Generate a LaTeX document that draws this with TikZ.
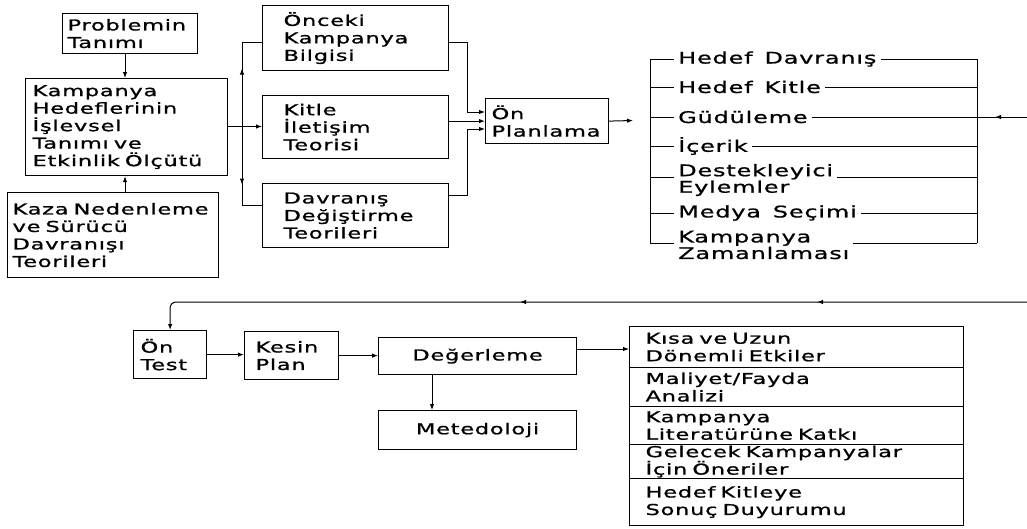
\documentclass[tikz,border=0pt]{standalone}
\usepackage{fontspec}
\setmainfont{DejaVu Sans}[FakeStretch=1.5, LetterSpace=5, FakeBold=1, WordSpace=1.4]
\usetikzlibrary{arrows.meta,decorations.markings}
\begin{document}
\begin{tikzpicture}[x=1pt,y=-1pt,
  every node/.style={font=\fontsize{15}{17.5}\selectfont},
  box/.style={draw, line width=1.2pt, align=left, inner ysep=0pt, anchor=north west},
  cbox/.style={draw, line width=1.2pt, align=center, inner sep=0pt, anchor=north west},
  item/.style={anchor=west, inner xsep=4pt, inner ysep=0pt, align=left, font=\fontsize{16}{16.5}\selectfont},
  ln/.style={line width=1pt},
  arr/.style={line width=1pt, -{Latex[length=6pt,width=4.5pt]}},
  midarr/.style={line width=1pt, postaction={decorate},
    decoration={markings, mark=at position #1 with {\arrow{Latex[length=6pt,width=4.5pt]}}}}
]
\useasboundingbox (0,0) rectangle (1027,528);

% left column
\node[box, inner xsep=5pt, text width=125pt, minimum width=135pt, minimum height=40pt] (prob) at (62,13) {Problemin\\Tanımı};
\node[box, inner xsep=7pt, text width=188pt, minimum width=202pt, minimum height=97pt] (kamp) at (25,78) {Kampanya\\Hedeflerinin\\İşlevsel\\Tanımı ve\\Etkinlik Ölçütü};
\node[box, inner xsep=5pt, text width=201pt, minimum width=211pt, minimum height=85pt] (kaza) at (7,192) {Kaza Nedenleme\\ve Sürücü\\Davranışı\\Teorileri};

% middle column
\node[box, inner xsep=21pt, text width=144pt, minimum width=186pt, minimum height=65pt] (onc) at (262,5) {Önceki\\Kampanya\\Bilgisi};
\node[box, inner xsep=21pt, text width=144pt, minimum width=186pt, minimum height=63pt] (kit) at (262,95) {Kitle\\İletişim\\Teorisi};
\node[box, inner xsep=21pt, text width=144pt, minimum width=186pt, minimum height=64pt] (dav) at (262,183) {Davranış\\Değiştirme\\Teorileri};
\node[box, inner xsep=6pt, text width=111pt, minimum width=123pt, minimum height=45pt] (onp) at (485,98) {Ön\\Planlama};

% bracket list
\node[item] (h1) at (674,59) {Hedef Davranış};
\node[item] (h2) at (674,87) {Hedef Kitle};
\node[item] (h3) at (674,117) {Güdüleme};
\node[item] (h4) at (674,146) {İçerik};
\node[item] (h5) at (674,180) {Destekleyici\\Eylemler};
\node[item] (h6) at (674,213) {Medya Seçimi};
\node[item] (h7) at (674,245) {Kampanya\\Zamanlaması};

\coordinate (lt) at (650,59);
\coordinate (lb) at (650,243);
\coordinate (rt) at (977,59);
\coordinate (rb) at (977,243);
\coordinate (y5) at (0,177);
\coordinate (y7) at (0,243);
\draw[ln] (lt) -- (lb);
\draw[ln] (rt) -- (rb);
\foreach \n in {h1,h2,h3,h4,h6}{
  \draw[ln] (lt |- \n.west) -- (\n.west);
  \draw[ln] (\n.east) -- (rt |- \n.east);
}
\draw[ln] (lt |- y5) -- (h5.west |- y5);
\draw[ln] (h5.east |- y5) -- (rt |- y5);
\draw[ln] (lt |- y7) -- (h7.west |- y7);
\draw[ln] (h7.east |- y7) -- (rt |- y7);

% bottom row
\node[box, inner xsep=7pt, text width=59pt, minimum width=73pt, minimum height=48pt] (ont) at (133,330) {Ön\\Test};
\node[box, inner xsep=11pt, text width=72pt, minimum width=94pt, minimum height=48pt] (kes) at (244,331) {Kesin\\Plan};
\node[cbox, minimum width=198pt, minimum height=37pt] (deg) at (378,337) {Değerleme};
\node[cbox, minimum width=198pt, minimum height=39pt] (met) at (378,410) {Metedoloji};

% result stack
\node[box, inner xsep=16pt, text width=302pt, minimum width=334pt, minimum height=41pt] (s1) at (629,326) {Kısa ve Uzun\\Dönemli Etkiler};
\node[box, inner xsep=16pt, text width=302pt, minimum width=334pt, minimum height=39pt] (s2) at (629,367) {Maliyet/Fayda\\Analizi};
\node[box, inner xsep=16pt, text width=302pt, minimum width=334pt, minimum height=38pt] (s3) at (629,406) {Kampanya\\Literatürüne Katkı};
\node[box, inner xsep=16pt, text width=302pt, minimum width=334pt, minimum height=34pt] (s4) at (629,444) {Gelecek Kampanyalar\\İçin Öneriler};
\node[box, inner xsep=16pt, text width=302pt, minimum width=334pt, minimum height=47pt] (s5) at (629,478) {Hedef Kitleye\\Sonuç Duyurumu};

% connectors left
\coordinate (px) at (125,0);
\draw[arr] (prob.south -| px) -- (kamp.north -| px);
\draw[arr] (kaza.north -| px) -- (kamp.south -| px);

\coordinate (bus) at (242,126.5);
\coordinate (bt) at (242,42);
\coordinate (bb) at (242,205);
\draw[ln] (kamp.east |- bus) -- (bus);
\draw[arr] (bus) -- (kit.west |- bus);
\draw[midarr=58pt] (bus) -- (bt) -- (onc.west |- bt);
\draw[midarr=58pt] (bus) -- (bb) -- (dav.west |- bb);

% to Ön Planlama
\coordinate (o1) at (467,42);
\coordinate (o3) at (467,195);
\coordinate (a1) at (0,112);
\coordinate (a3) at (0,129);
\draw[arr] (onc.east |- o1) -- (o1) -- (o1 |- a1) -- (onp.west |- a1);
\draw[arr] (kit.east |- onp.west) -- (onp.west);
\draw[arr] (dav.east |- o3) -- (o3) -- (o3 |- a3) -- (onp.west |- a3);
\coordinate (pend) at (633,120.5);
\draw[arr] (onp.east) -- (pend);

% incoming from right
\coordinate (rin) at (1027,117);
\draw[midarr=32pt] (rin) -- (rt |- rin);

% loop to Ön Test
\coordinate (be) at (1027,302);
\draw[line width=1pt, rounded corners=6pt, -{Latex[length=6pt,width=4.5pt]},
  postaction={decorate}, decoration={markings,
    mark=at position 210pt with {\arrow{Latex[length=6pt,width=4.5pt]}},
    mark=at position 507pt with {\arrow{Latex[length=6pt,width=4.5pt]}}}]
  (be) -- (ont.north |- be) -- (ont.north);

% bottom connectors
\draw[arr] (ont.east) -- (kes.west |- ont.east);
\draw[arr] (kes.east) -- (deg.west |- kes.east);
\coordinate (mx) at (432,0);
\draw[arr] (deg.south -| mx) -- (met.north -| mx);
\coordinate (dy) at (0,349);
\draw[arr] (deg.east |- dy) -- (s1.west |- dy);
\end{tikzpicture}
\end{document}
